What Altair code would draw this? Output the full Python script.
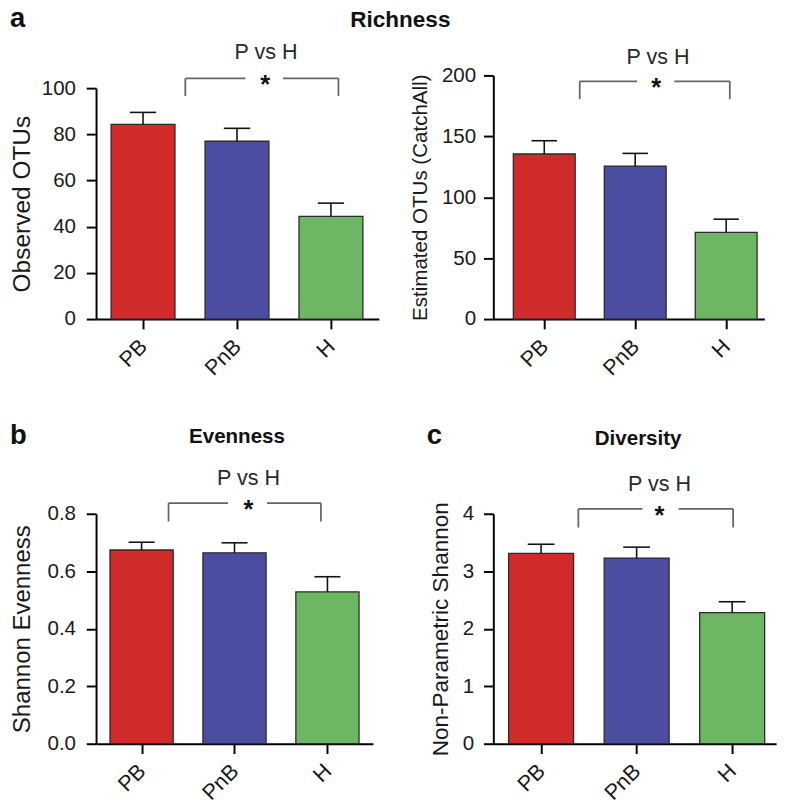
import altair as alt
import pandas as pd

# ---------------- data ----------------
groups = ["PB", "PnB", "H"]
positions = [0, 1, 2]
colors = ["#D02A2B", "#4B4DA0", "#6DB663"]

obs_mean = [84.3, 77.0, 44.5]
obs_sem = [5.2, 5.6, 5.7]

est_mean = [135.5, 125.6, 71.2]
est_sem = [10.9, 10.4, 10.8]

even_mean = [0.674, 0.664, 0.528]
even_sem = [0.027, 0.035, 0.053]

div_mean = [3.31, 3.23, 2.28]
div_sem = [0.16, 0.19, 0.19]

obs_ticks = [0, 20, 40, 60, 80, 100]
est_ticks = [0, 50, 100, 150, 200]
even_ticks = [0.0, 0.2, 0.4, 0.6, 0.8]
div_ticks = [0, 1, 2, 3, 4]

FONT = "Liberation Sans"


def panel(mean, sem, ydom, yvals, yfmt, ytitle, ytitle_size, title_pad, label_pad,
          xdom, width, height, bracket, pvh, extras, yrange=None):
    df = pd.DataFrame({"pos": positions, "group": groups, "mean": mean, "sem": sem})
    base = alt.Chart(df).transform_calculate(
        top="datum.mean + datum.sem",
        x0="datum.pos - 0.34", x1="datum.pos + 0.34",
        c0="datum.pos - 0.14", c1="datum.pos + 0.14",
    )
    xscale = alt.Scale(domain=xdom, nice=False, zero=False)
    if yrange is not None:
        yscale = alt.Scale(domain=ydom, nice=False, zero=True, range=yrange)
    else:
        yscale = alt.Scale(domain=ydom, nice=False, zero=True)
    xaxis = alt.Axis(values=positions,
                     labelExpr="['PB','PnB','H'][datum.value]",
                     labelAngle=-45, labelAlign="right", labelBaseline="middle",
                     labelPadding=14, title=None, labelFontSize=22)
    yaxis = alt.Axis(values=yvals, format=yfmt, title=ytitle,
                     titleFontSize=ytitle_size, titlePadding=title_pad,
                     labelFontSize=21, labelPadding=label_pad)

    def X(f):
        return alt.X(f, scale=xscale, axis=xaxis)

    def Y(f):
        return alt.Y(f, scale=yscale, axis=yaxis)

    bars = base.mark_bar(stroke="#2a2a2a", strokeWidth=1.3).encode(
        x=X("x0:Q"), x2="x1:Q", y=Y("mean:Q"), y2=alt.datum(0),
        color=alt.Color("group:N", scale=alt.Scale(domain=groups, range=colors), legend=None),
    )
    stem = base.mark_rule(color="#111", strokeWidth=1.6).encode(
        x=X("pos:Q"), y=Y("mean:Q"), y2="top:Q")
    cap = base.mark_rule(color="#111", strokeWidth=1.6).encode(
        x=X("c0:Q"), x2="c1:Q", y=Y("top:Q"))

    left, gap0, gap1, right, ytop, ybot, star_x = bracket
    segs = pd.DataFrame({
        "xa": [left, gap1, left, right],
        "xb": [gap0, right, left, right],
        "ya": [ytop, ytop, ybot, ybot],
        "yb": [ytop, ytop, ytop, ytop],
    })
    br = alt.Chart(segs).mark_rule(color="#666666", strokeWidth=1.8).encode(
        x=X("xa:Q"), x2="xb:Q", y=Y("ya:Q"), y2="yb:Q")
    star = alt.Chart(pd.DataFrame({"x": [star_x], "y": [ytop], "t": ["*"]})).mark_text(
        font=FONT, fontSize=26, fontWeight="bold", baseline="alphabetic", dy=15, color="#111"
    ).encode(x=X("x:Q"), y=Y("y:Q"), text="t:N")
    px, py = pvh
    ptxt = alt.Chart(pd.DataFrame({"x": [px], "y": [py], "t": ["P vs H"]})).mark_text(
        font=FONT, fontSize=22, baseline="alphabetic", color="#2a2a2a"
    ).encode(x=X("x:Q"), y=Y("y:Q"), text="t:N")

    layers = [bars, stem, cap, br, star, ptxt]
    for (t, ex, ey, fs, al) in extras:
        layers.append(
            alt.Chart(pd.DataFrame({"t": [t]})).mark_text(
                font=FONT, fontSize=fs, fontWeight="bold", align=al,
                baseline="alphabetic", color="#111"
            ).encode(x=alt.value(ex), y=alt.value(ey), text="t:N")
        )
    return alt.layer(*layers).properties(width=width, height=height)


a1 = panel(obs_mean, obs_sem, [0, 100], obs_ticks, "d", "Observed OTUs", 25, 7, 11,
           [-0.5, 2.51], 289, 249,
           (0.45, 1.09, 1.49, 2.08, 104.2, 96.6, 1.30), (1.31, 112.7),
           [("a", -88, -50, 28, "left"), ("Richness", 311, -49, 23, "center")],
           yrange=[249, 13])
a2 = panel(est_mean, est_sem, [0, 200], est_ticks, "d", "Estimated OTUs (CatchAll)", 21, 11, 8,
           [-0.56, 2.42], 277, 249,
           (0.39, 1.02, 1.43, 2.04, 195.2, 180.7, 1.23), (1.25, 209.6), [])
b = panel(even_mean, even_sem, [0, 0.8], even_ticks, ".1f", "Shannon Evenness", 24.5, 13, 11,
          [-0.49, 2.49], 283, 235,
          (0.29, 0.93, 1.35, 1.93, 0.837, 0.773, 1.15), (1.15, 0.899),
          [("b", -88, -71, 28, "left"), ("Evenness", 144, -72, 21, "center")])
c = panel(div_mean, div_sem, [0, 4], div_ticks, "d", "Non-Parametric Shannon", 23, 10, 10,
          [-0.5, 2.46], 289, 235,
          (0.39, 1.06, 1.44, 2.01, 4.085, 3.76, 1.24), (1.24, 4.39),
          [("c", -68, -71, 28, "left"), ("Diversity", 148, -70, 21, "center")])

chart = alt.concat(
    a1, a2, b, c, columns=2,
    spacing={"row": 199, "column": 117},
    bounds="flush", align="none",
).configure_axis(
    labelFont=FONT, titleFont=FONT, domainColor="black", domainWidth=2,
    tickColor="black", tickWidth=2, tickSize=10, labelColor="#1a1a1a",
    titleColor="#1a1a1a", titleFontWeight="normal", grid=False,
).configure_view(stroke=None).properties(
    padding={"top": -12, "left": 1, "right": 5, "bottom": 5}
)

chart.save("out.html", embed_options={"renderer": "svg", "actions": False})
